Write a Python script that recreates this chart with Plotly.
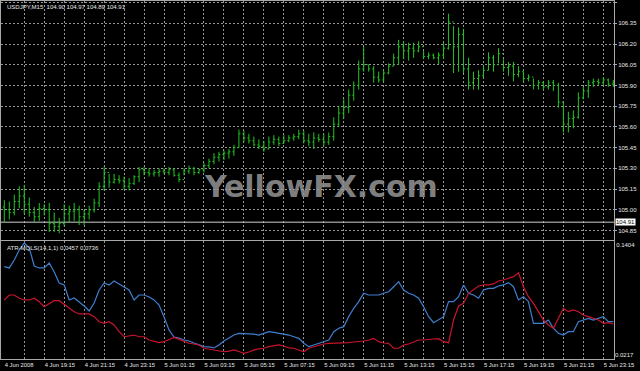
import plotly.graph_objects as go

# ---------------- data ----------------
bar_index = list(range(123))

opens = [105.02, 105.00, 104.98, 105.06, 105.10, 105.04, 104.98, 104.95, 105.01, 105.00,
         104.90, 104.88, 104.90, 104.97, 104.99, 105.00, 104.95, 104.97, 105.00, 105.05,
         105.17, 105.27, 105.20, 105.22, 105.21, 105.17, 105.19, 105.24, 105.29, 105.27,
         105.26, 105.27, 105.28, 105.27, 105.29, 105.25, 105.22, 105.28, 105.30, 105.27,
         105.29, 105.32, 105.35, 105.38, 105.40, 105.41, 105.42, 105.45, 105.55, 105.52,
         105.50, 105.47, 105.46, 105.44, 105.49, 105.51, 105.48, 105.50, 105.52, 105.53,
         105.55, 105.50, 105.49, 105.52, 105.51, 105.49, 105.53, 105.62, 105.70, 105.74,
         105.83, 105.90, 106.02, 106.05, 106.02, 105.96, 105.94, 105.99, 106.04, 106.10,
         106.18, 106.15, 106.17, 106.15, 106.18, 106.11, 106.12, 106.10, 106.12, 106.17,
         106.36, 106.18, 106.27, 106.02, 105.92, 105.95, 105.97, 106.01, 106.10, 106.05,
         106.13, 106.03, 106.04, 105.98, 106.00, 105.95, 105.96, 105.90, 105.92, 105.89,
         105.92, 105.90, 105.78, 105.62, 105.66, 105.67, 105.81, 105.86, 105.92, 105.93,
         105.92, 105.94, 105.91]
highs = [105.07, 105.06, 105.11, 105.17, 105.18, 105.09, 105.02, 105.05, 105.04, 105.05,
         104.98, 104.94, 105.04, 105.03, 105.05, 105.03, 105.00, 105.03, 105.08, 105.20,
         105.31, 105.26, 105.26, 105.25, 105.24, 105.23, 105.25, 105.31, 105.31, 105.30,
         105.29, 105.30, 105.30, 105.31, 105.30, 105.27, 105.30, 105.32, 105.31, 105.30,
         105.34, 105.37, 105.41, 105.42, 105.43, 105.44, 105.47, 105.58, 105.57, 105.55,
         105.53, 105.51, 105.50, 105.53, 105.54, 105.53, 105.54, 105.54, 105.55, 105.58,
         105.57, 105.55, 105.56, 105.55, 105.55, 105.56, 105.67, 105.75, 105.80, 105.87,
         105.93, 106.08, 106.18, 106.05, 106.04, 106.00, 106.01, 106.06, 106.13, 106.23,
         106.22, 106.21, 106.21, 106.22, 106.15, 106.14, 106.13, 106.14, 106.21, 106.42,
         106.33, 106.32, 106.31, 106.10, 106.00, 106.01, 106.04, 106.14, 106.12, 106.17,
         106.09, 106.07, 106.07, 106.04, 106.00, 105.98, 105.95, 105.94, 105.93, 105.94,
         105.94, 105.92, 105.78, 105.71, 105.72, 105.85, 105.89, 105.94, 105.95, 105.95,
         105.96, 105.95, 105.94]
lows = [104.91, 104.93, 104.96, 105.01, 104.97, 104.95, 104.91, 104.92, 104.96, 104.84,
        104.84, 104.83, 104.88, 104.91, 104.92, 104.89, 104.89, 104.93, 104.98, 105.02,
        105.14, 105.16, 105.19, 105.19, 105.15, 105.14, 105.18, 105.20, 105.25, 105.24,
        105.24, 105.24, 105.26, 105.25, 105.24, 105.20, 105.25, 105.26, 105.25, 105.26,
        105.27, 105.30, 105.33, 105.35, 105.36, 105.37, 105.39, 105.45, 105.49, 105.48,
        105.46, 105.44, 105.42, 105.44, 105.47, 105.46, 105.48, 105.49, 105.50, 105.51,
        105.48, 105.46, 105.44, 105.49, 105.46, 105.47, 105.50, 105.60, 105.66, 105.70,
        105.79, 105.87, 106.00, 106.00, 105.92, 105.92, 105.93, 105.98, 106.04, 106.05,
        106.09, 106.08, 106.10, 106.14, 106.09, 106.09, 106.09, 106.05, 106.09, 106.16,
        105.99, 106.00, 105.99, 105.87, 105.87, 105.87, 105.96, 106.01, 106.00, 106.06,
        106.00, 105.97, 105.93, 105.96, 105.93, 105.93, 105.87, 105.87, 105.87, 105.87,
        105.86, 105.74, 105.56, 105.56, 105.59, 105.66, 105.80, 105.81, 105.89, 105.90,
        105.90, 105.89, 105.89]
closes = [105.00, 104.98, 105.06, 105.10, 105.04, 104.98, 104.95, 105.01, 105.00, 104.90,
          104.88, 104.90, 104.97, 104.99, 105.00, 104.95, 104.97, 105.00, 105.05, 105.17,
          105.27, 105.20, 105.22, 105.21, 105.17, 105.19, 105.24, 105.29, 105.27, 105.26,
          105.27, 105.28, 105.27, 105.29, 105.25, 105.22, 105.28, 105.30, 105.27, 105.29,
          105.32, 105.35, 105.38, 105.40, 105.41, 105.42, 105.45, 105.55, 105.52, 105.50,
          105.47, 105.46, 105.44, 105.49, 105.51, 105.48, 105.50, 105.52, 105.53, 105.55,
          105.50, 105.49, 105.52, 105.51, 105.49, 105.53, 105.62, 105.70, 105.74, 105.83,
          105.90, 106.02, 106.05, 106.02, 105.96, 105.94, 105.99, 106.04, 106.10, 106.18,
          106.15, 106.17, 106.15, 106.18, 106.11, 106.12, 106.10, 106.12, 106.17, 106.36,
          106.18, 106.27, 106.02, 105.92, 105.95, 105.97, 106.01, 106.10, 106.05, 106.13,
          106.03, 106.04, 105.98, 106.00, 105.95, 105.96, 105.90, 105.92, 105.89, 105.92,
          105.90, 105.78, 105.62, 105.66, 105.67, 105.81, 105.86, 105.92, 105.93, 105.92,
          105.94, 105.91, 105.92]

atr_blue = [0.1146, 0.1133, 0.1213, 0.1313, 0.1384, 0.1334, 0.1153, 0.1133, 0.1133, 0.1183,
            0.1092, 0.0982, 0.0962, 0.0811, 0.0831, 0.0791, 0.0750, 0.0700, 0.0780, 0.0911,
            0.0982, 0.0962, 0.1002, 0.0972, 0.0941, 0.0911, 0.0811, 0.0861, 0.0861, 0.0841,
            0.0811, 0.0760, 0.0640, 0.0509, 0.0438, 0.0428, 0.0408, 0.0398, 0.0378, 0.0358,
            0.0341, 0.0338, 0.0328, 0.0358, 0.0398, 0.0428, 0.0458, 0.0475, 0.0475, 0.0475,
            0.0468, 0.0458, 0.0479, 0.0492, 0.0484, 0.0475, 0.0468, 0.0458, 0.0441, 0.0425,
            0.0375, 0.0341, 0.0358, 0.0375, 0.0388, 0.0408, 0.0492, 0.0526, 0.0542, 0.0643,
            0.0727, 0.0794, 0.0878, 0.0861, 0.0861, 0.0861, 0.0878, 0.0894, 0.0944, 0.0995,
            0.0911, 0.0878, 0.0861, 0.0828, 0.0743, 0.0643, 0.0582, 0.0609, 0.0643, 0.0794,
            0.0794, 0.0844, 0.0962, 0.0878, 0.0861, 0.0828, 0.0911, 0.0928, 0.0928, 0.0951,
            0.0962, 0.0985, 0.0944, 0.0811, 0.0844, 0.0794, 0.0576, 0.0576, 0.0576, 0.0609,
            0.0526, 0.0475, 0.0458, 0.0492, 0.0492, 0.0592, 0.0609, 0.0626, 0.0609, 0.0626,
            0.0643, 0.0592, 0.0592]
atr_red = [0.0811, 0.0861, 0.0861, 0.0828, 0.0811, 0.0811, 0.0828, 0.0794, 0.0743, 0.0777,
           0.0804, 0.0804, 0.0770, 0.0727, 0.0693, 0.0670, 0.0667, 0.0670, 0.0643, 0.0592,
           0.0576, 0.0592, 0.0559, 0.0492, 0.0441, 0.0448, 0.0458, 0.0441, 0.0441, 0.0408,
           0.0391, 0.0381, 0.0391, 0.0415, 0.0435, 0.0415, 0.0391, 0.0375, 0.0368, 0.0358,
           0.0325, 0.0318, 0.0308, 0.0303, 0.0290, 0.0297, 0.0308, 0.0292, 0.0274, 0.0287,
           0.0308, 0.0318, 0.0325, 0.0341, 0.0348, 0.0358, 0.0348, 0.0328, 0.0325, 0.0308,
           0.0290, 0.0325, 0.0341, 0.0358, 0.0368, 0.0375, 0.0375, 0.0375, 0.0378, 0.0381,
           0.0388, 0.0391, 0.0398, 0.0408, 0.0425, 0.0391, 0.0378, 0.0375, 0.0325, 0.0325,
           0.0358, 0.0368, 0.0391, 0.0408, 0.0408, 0.0415, 0.0418, 0.0421, 0.0391, 0.0381,
           0.0609, 0.0750, 0.0777, 0.0878, 0.0918, 0.0951, 0.0962, 0.0962, 0.0972, 0.1002,
           0.1012, 0.1029, 0.1045, 0.1085, 0.0944, 0.0844, 0.0777, 0.0693, 0.0609, 0.0559,
           0.0526, 0.0626, 0.0727, 0.0693, 0.0710, 0.0693, 0.0660, 0.0643, 0.0626, 0.0609,
           0.0576, 0.0582, 0.0569]

time_tick_index = [0, 8, 16, 24, 32, 40, 48, 56, 64, 72, 80, 88, 96, 104, 112, 120]
time_tick_labels = ["4 Jun 2008", "4 Jun 19:15", "4 Jun 21:15", "4 Jun 23:15",
                    "5 Jun 01:15", "5 Jun 03:15", "5 Jun 05:15", "5 Jun 07:15",
                    "5 Jun 09:15", "5 Jun 11:15", "5 Jun 13:15", "5 Jun 15:15",
                    "5 Jun 17:15", "5 Jun 19:15", "5 Jun 21:15", "5 Jun 23:15"]
grid_index = [0, 4, 8, 12, 16, 20, 24, 28, 32, 36, 40, 44, 48, 52, 56, 60,
              64, 68, 72, 76, 80, 84, 88, 92, 96, 100, 104, 108, 112, 116, 120]
price_ticks = [104.85, 105.00, 105.15, 105.30, 105.45, 105.60, 105.75,
               105.90, 106.05, 106.20, 106.35, 106.50]
atr_ticks_top = [0.1404]
atr_ticks_bottom = [0.0217]
bid_price = 104.91
header_text = "USDJPY,M15\u00a0\u00a0104.90 104.97 104.89 104.91"
atr_text = "ATR-MQLS(14,1,1) 0.0457 0.0736"

# ---------------- styling ----------------
W, H = 640, 371
FONT = "Liberation Sans"
TXT = "#e8e8e8"
BORDER = "#a8a8a8"
GRID = "rgba(200,200,200,0.75)"
BAR = "#22c422"

def py(px):
    return 1 - px / H

x_dom = [1 / W, 614 / W]
main_dom = [py(239.5), py(1)]
sub_dom = [py(359), py(241)]
x_range = [-0.66, 122.14]

label_map = dict(zip(time_tick_index, time_tick_labels))
grid_text = [label_map.get(g, "") for g in grid_index]

fig = go.Figure()
fig.add_trace(go.Ohlc(
    x=bar_index, open=opens, high=highs, low=lows, close=closes,
    xaxis="x", yaxis="y",
    increasing=dict(line=dict(color=BAR, width=1)),
    decreasing=dict(line=dict(color=BAR, width=1)),
    tickwidth=0.3, hoverinfo="skip", showlegend=False,
))
fig.add_trace(go.Scatter(
    x=bar_index, y=atr_blue, xaxis="x2", yaxis="y2", mode="lines",
    line=dict(color="#3f7fd0", width=1.2), showlegend=False, hoverinfo="skip",
))
fig.add_trace(go.Scatter(
    x=bar_index, y=atr_red, xaxis="x2", yaxis="y3", mode="lines",
    line=dict(color="#c8142c", width=1.2), showlegend=False, hoverinfo="skip",
))

common_x = dict(
    domain=x_dom, range=x_range, tickmode="array", tickvals=grid_index,
    showgrid=True, gridcolor=GRID, griddash="2px,2px", gridwidth=1,
    zeroline=True, zerolinecolor="rgba(0,0,0,0)",
    showline=True, mirror=True, linecolor=BORDER, linewidth=1,
    ticks="", fixedrange=True, automargin=False,
)

fig.update_layout(
    width=W, height=H, autosize=False,
    margin=dict(l=0, r=0, t=0, b=0, autoexpand=False),
    paper_bgcolor="black", plot_bgcolor="black",
    font=dict(family=FONT, size=6, color=TXT),
    showlegend=False,
    xaxis=dict(**common_x, anchor="y", showticklabels=False,
               rangeslider=dict(visible=False)),
    xaxis2=dict(**common_x, anchor="y2", matches="x", ticktext=grid_text,
                showticklabels=True, ticklabelposition="outside right",
                tickfont=dict(family=FONT, size=5.8, color=TXT)),
    yaxis=dict(domain=main_dom, anchor="x", side="right",
               range=[104.785, 106.5115], tickmode="array", tickvals=price_ticks,
               ticktext=[f"{v:.2f}" for v in price_ticks],
               showgrid=True, gridcolor=GRID, griddash="2px,2px", zeroline=False,
               showline=True, mirror=True, linecolor=BORDER,
               ticks="outside", ticklen=2, tickcolor=BORDER, automargin=False,
               tickfont=dict(family=FONT, size=6, color=TXT), fixedrange=True),
    yaxis2=dict(domain=sub_dom, anchor="x2", side="right",
                range=[0.0217, 0.1404], tickmode="array", tickvals=atr_ticks_top,
                ticktext=[f"{v:.4f}" for v in atr_ticks_top],
                ticklabelposition="outside bottom",
                showgrid=False, zeroline=False, automargin=False,
                showline=True, mirror=True, linecolor=BORDER,
                ticks="", tickfont=dict(family=FONT, size=6, color=TXT),
                fixedrange=True),
    yaxis3=dict(anchor="x2", overlaying="y2", side="right",
                range=[0.0217, 0.1404], tickmode="array", tickvals=atr_ticks_bottom,
                ticktext=[f"{v:.4f}" for v in atr_ticks_bottom],
                ticklabelposition="outside top", automargin=False,
                showgrid=False, zeroline=False, showline=False,
                ticks="", tickfont=dict(family=FONT, size=6, color=TXT),
                fixedrange=True),
)

# current bid line and its price box
fig.add_shape(type="line", xref="paper", yref="y", x0=x_dom[0], x1=x_dom[1],
              y0=bid_price, y1=bid_price, line=dict(color="#8a8a8a", width=1.5),
              layer="below")
fig.add_annotation(xref="paper", yref="y", x=x_dom[1] + 1 / W, y=bid_price,
                   xanchor="left", yanchor="middle", text=f"{bid_price:.2f}",
                   showarrow=False, bgcolor="white", borderpad=0,
                   font=dict(family=FONT, size=6, color="black"))

# titles inside panels
fig.add_annotation(xref="paper", yref="paper", x=5 / W, y=py(6.5),
                   xanchor="left", yanchor="middle", text=header_text,
                   showarrow=False, font=dict(family=FONT, size=6, color=TXT))
fig.add_annotation(xref="paper", yref="paper", x=5 / W, y=py(247.5),
                   xanchor="left", yanchor="middle", text=atr_text,
                   showarrow=False, font=dict(family=FONT, size=6, color=TXT))

# watermark
fig.add_annotation(xref="paper", yref="paper", x=321 / W, y=py(186),
                   xanchor="center", yanchor="middle", text="<b>YellowFX.com</b>",
                   showarrow=False,
                   font=dict(family="DejaVu Sans", size=30, color="rgba(150,150,150,0.85)"))

fig.write_html("out.html", config={"displayModeBar": False})
